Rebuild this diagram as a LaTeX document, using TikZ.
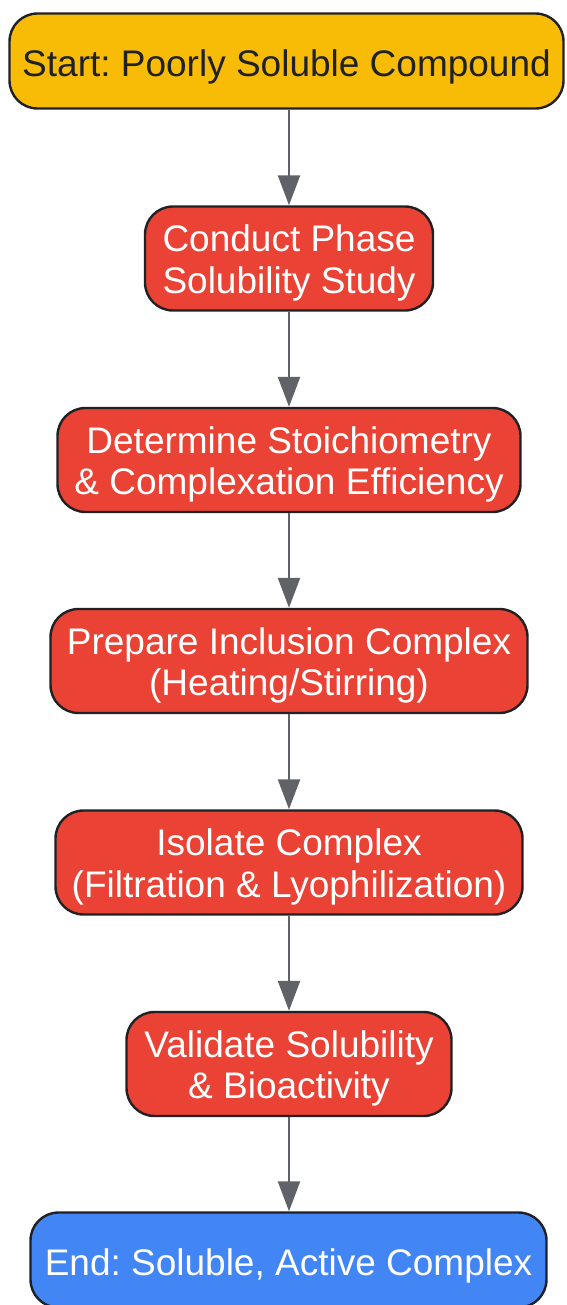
\documentclass[tikz,border=0pt]{standalone}
\usepackage{fontspec}
\setmainfont{Liberation Sans}
\usetikzlibrary{arrows.meta}
\frenchspacing
\definecolor{startyellow}{HTML}{F9BC06}
\definecolor{stepred}{HTML}{EA4335}
\definecolor{endblue}{HTML}{4285F4}
\definecolor{bordergray}{HTML}{202124}
\definecolor{arrowgray}{HTML}{5F6368}
\definecolor{darktext}{HTML}{202124}
\tikzset{
  box/.style={draw=bordergray, line width=2.4pt, rounded corners=28pt,
    inner sep=0pt, minimum height=104pt},
  startbox/.style={box, fill=startyellow, minimum height=95pt},
  stepbox/.style={box, fill=stepred},
  endbox/.style={box, fill=endblue, minimum height=95pt},
  txt/.style={align=center, inner sep=0pt, text=white,
    font=\fontsize{37}{41.6}\selectfont\frenchspacing},
  darktxt/.style={txt, text=darktext},
  conn/.style={draw=arrowgray, line width=2.4pt,
    -{Triangle[length=30pt,width=22pt]}}
}
\begin{document}
\begin{tikzpicture}[x=1pt,y=-1pt]
\useasboundingbox (0,0) rectangle (566,1305);
\node[startbox, minimum width=554pt] (start) at (286.5,61) {};
\node[stepbox, minimum width=288pt] (s1) at (289,258.5) {};
\node[stepbox, minimum width=463pt] (s2) at (289,460) {};
\node[stepbox, minimum width=477pt] (s3) at (289,661) {};
\node[stepbox, minimum width=467pt] (s4) at (289,862.5) {};
\node[stepbox, minimum width=325pt] (s5) at (289,1064) {};
\node[endbox, minimum width=516pt] (end) at (288.5,1260) {};
\node[darktxt] (startt) at ([yshift=-6pt]start.center) {Start: Poorly Soluble Compound};
\node[txt] (s1t) at ([yshift=-4.5pt]s1.center) {Conduct Phase\\Solubility Study};
\node[txt] (s2t) at ([yshift=-4.5pt]s2.center) {Determine Stoichiometry\\\& Complexation Efficiency};
\node[txt] (s3t) at ([yshift=-4.5pt]s3.center) {Prepare Inclusion Complex\\(Heating/Stirring)};
\node[txt] (s4t) at ([yshift=-4.5pt]s4.center) {Isolate Complex\\(Filtration \& Lyophilization)};
\node[txt] (s5t) at ([yshift=-4.5pt]s5.center) {Validate Solubility\\\& Bioactivity};
\node[txt] (endt) at ([yshift=-6pt]end.center) {End: Soluble, Active Complex};
\draw[conn] (start.south -| s1.north) -- (s1.north);
\draw[conn] (s1) -- (s2);
\draw[conn] (s2) -- (s3);
\draw[conn] (s3) -- (s4);
\draw[conn] (s4) -- (s5);
\draw[conn] (s5.south) -- (s5.south |- end.north);
\end{tikzpicture}
\end{document}
